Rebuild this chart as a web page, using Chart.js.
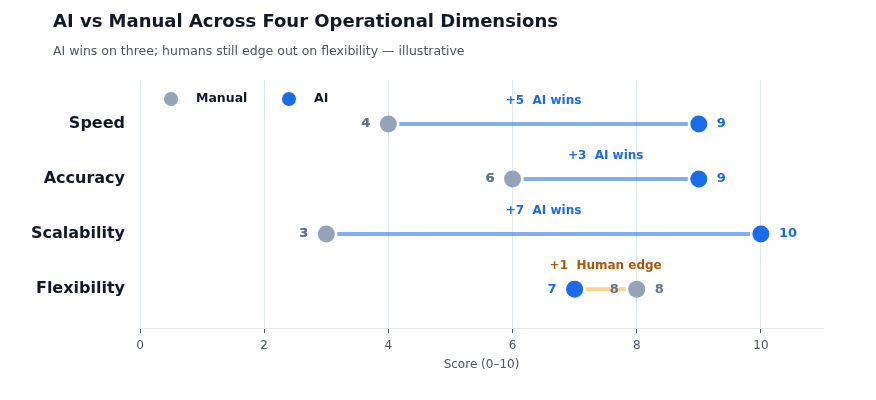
<!DOCTYPE html>
<html>
<head>
<meta charset="utf-8">
<script src="https://cdn.jsdelivr.net/npm/chart.js@4"></script>
<style>
  html, body { margin: 0; padding: 0; background: #fff; }
  #wrap { width: 876px; height: 400px; position: relative; }
</style>
</head>
<body>
<div id="wrap"><canvas id="myChart"></canvas></div>
<script>
const categories = ['Speed', 'Accuracy', 'Scalability', 'Flexibility'];
const manualScores = [4, 6, 3, 8];
const aiScores = [9, 9, 10, 7];
const xTicks = [0, 2, 4, 6, 8, 10];

const TITLE = 'AI vs Manual Across Four Operational Dimensions';
const SUBTITLE = 'AI wins on three; humans still edge out on flexibility \u2014 illustrative';

const MANUAL = '#94a3b8';
const AI = '#1a6ce8';

// points for the two series, one row per category
const manualPts = manualScores.map((v, i) => ({x: v, y: i}));
const aiPts = aiScores.map((v, i) => ({x: v, y: i}));

// connectors between the two dots, value labels, notes, legend and heading
const dumbbell = {
    id: 'dumbbell',
    beforeDatasetsDraw(chart) {
        const ctx = chart.ctx, xs = chart.scales.x, ys = chart.scales.y;
        ctx.save();
        ctx.lineWidth = 4;
        for (let i = 0; i < categories.length; i++) {
            const a = xs.getPixelForValue(manualScores[i]);
            const b = xs.getPixelForValue(aiScores[i]);
            const y = ys.getPixelForValue(i);
            const lo = Math.min(a, b) + 11, hi = Math.max(a, b) - 11;
            ctx.strokeStyle = aiScores[i] >= manualScores[i] ? 'rgba(26,108,232,0.55)' : 'rgba(245,158,11,0.45)';
            ctx.beginPath();
            ctx.moveTo(lo, y);
            ctx.lineTo(hi, y);
            ctx.stroke();
        }
        ctx.restore();
    },
    afterDatasetsDraw(chart) {
        const ctx = chart.ctx, xs = chart.scales.x, ys = chart.scales.y;
        const area = chart.chartArea;
        ctx.save();
        ctx.textBaseline = 'middle';
        for (let i = 0; i < categories.length; i++) {
            const m = manualScores[i], a = aiScores[i];
            const mx = xs.getPixelForValue(m), ax = xs.getPixelForValue(a);
            const y = ys.getPixelForValue(i);
            ctx.font = 'bold 13px "DejaVu Sans"';
            // left endpoint label on its left, right endpoint on its right
            const leftIsAi = a < m;
            ctx.textAlign = 'right';
            ctx.fillStyle = leftIsAi ? AI : '#64748b';
            ctx.fillText(String(leftIsAi ? a : m), (leftIsAi ? ax : mx) - 18, y);
            ctx.fillStyle = '#64748b';
            ctx.fillText(String(m), mx - 18, y);
            ctx.textAlign = 'left';
            ctx.fillStyle = leftIsAi ? '#64748b' : AI;
            ctx.fillText(String(leftIsAi ? m : a), (leftIsAi ? mx : ax) + 18, y);

            // gap note above the row
            const d = a - m;
            const mid = xs.getPixelForValue((a + m) / 2);
            ctx.font = 'bold 12px "DejaVu Sans"';
            ctx.textAlign = 'center';
            ctx.fillStyle = d > 0 ? AI : '#b45309';
            ctx.fillText(d > 0 ? '+' + d + '  AI wins' : '+' + (-d) + '  Human edge', mid, y - 23);
        }

        // legend
        const ly = area.top + 19;
        const items = [['Manual', MANUAL, 31], ['AI', AI, 149]];
        ctx.font = 'bold 12.5px "DejaVu Sans"';
        ctx.textAlign = 'left';
        items.forEach(([label, color, off]) => {
            ctx.fillStyle = color;
            ctx.beginPath();
            ctx.arc(area.left + off, ly, 7, 0, Math.PI * 2);
            ctx.fill();
            ctx.fillStyle = '#111827';
            ctx.fillText(label, area.left + off + 25, ly);
        });

        // heading
        ctx.fillStyle = '#111827';
        ctx.font = 'bold 18px "DejaVu Sans"';
        ctx.fillText(TITLE, 53, 22);
        ctx.fillStyle = '#4b5563';
        ctx.font = '12.5px "DejaVu Sans"';
        ctx.fillText(SUBTITLE, 53, 52);
        ctx.restore();
    }
};

Chart.defaults.font.family = '"DejaVu Sans", sans-serif';

const chart = new Chart(document.getElementById('myChart'), {
    type: 'scatter',
    data: {
        datasets: [
            {
                label: 'Manual',
                data: manualPts,
                backgroundColor: MANUAL,
                borderColor: MANUAL,
                pointRadius: 8.5,
                pointHoverRadius: 8.5,
                borderWidth: 0
            },
            {
                label: 'AI',
                data: aiPts,
                backgroundColor: AI,
                borderColor: AI,
                pointRadius: 8.5,
                pointHoverRadius: 8.5,
                borderWidth: 0
            }
        ]
    },
    options: {
        responsive: true,
        maintainAspectRatio: false,
        animation: false,
        layout: {padding: {left: 0, right: 53, top: 80, bottom: 24}},
        plugins: {
            legend: {display: false},
            tooltip: {enabled: false}
        },
        scales: {
            x: {
                type: 'linear',
                min: 0,
                max: 11,
                afterBuildTicks: (s) => { s.ticks = xTicks.map(v => ({value: v})); },
                grid: {color: '#e2e8f0', tickColor: '#4b5563', tickLength: 5},
                border: {color: '#e5e7eb'},
                ticks: {color: '#4b5563', font: {size: 12}, padding: 5},
                title: {display: true, text: 'Score (0\u201310)', color: '#4b5563', font: {size: 12}, padding: {top: 0}}
            },
            y: {
                type: 'linear',
                reverse: true,
                min: -0.8,
                max: 3.71,
                afterBuildTicks: (s) => { s.ticks = categories.map((c, i) => ({value: i})); },
                afterFit: (s) => { s.width = 140; },
                grid: {display: false, drawTicks: false},
                border: {display: false},
                ticks: {
                    color: '#111827',
                    font: {size: 16, weight: 'bold'},
                    padding: 15,
                    callback: (v) => categories[v]
                }
            }
        }
    },
    plugins: [dumbbell]
});
</script>
</body>
</html>
